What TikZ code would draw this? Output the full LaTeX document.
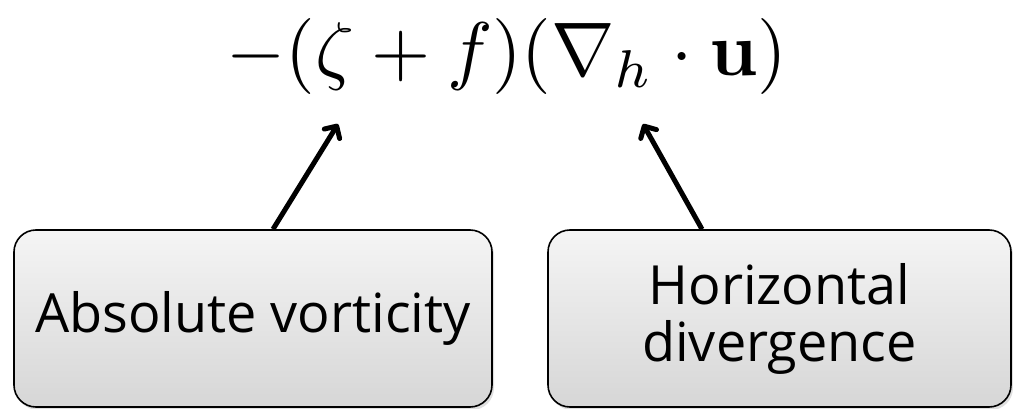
\documentclass[tikz,border=0pt]{standalone}
\usepackage{amsmath}
\usepackage{graphicx}
\usepackage[no-math]{fontspec}
\setmainfont{Open Sans}
\usetikzlibrary{arrows.meta,shadows}
\begin{document}
\begin{tikzpicture}[x=1pt,y=-1pt,
  infobox/.style={draw=black, line width=1.6pt, rounded corners=22pt,
    top color=gray!8, bottom color=gray!32, minimum width=478pt, minimum height=177pt,
    align=center, font=\fontsize{54}{57}\selectfont,
    drop shadow={shadow xshift=2pt, shadow yshift=-3pt, opacity=0.25}},
  arr/.style={line width=5pt, -{Straight Barb[length=9pt,width=18pt,round]}}]
\useasboundingbox (0,0) rectangle (1013,409);
\node[inner sep=0pt] (eq) at (507,57) {\scalebox{7.6}{$-(\zeta+f)(\nabla_h\cdot\mathbf{u})$}};
\node[infobox] (lbox) at (253,318.5) {Absolute vorticity};
\node[infobox, minimum width=463pt] (rbox) at (779.5,318.5) {Horizontal\\divergence};
\coordinate (lt) at (338,124);
\coordinate (rt) at (643,124);
\draw[arr] ([xshift=20pt]lbox.north) -- (lt);
\draw[arr] ([xshift=-77.5pt]rbox.north) -- (rt);
\end{tikzpicture}
\end{document}
